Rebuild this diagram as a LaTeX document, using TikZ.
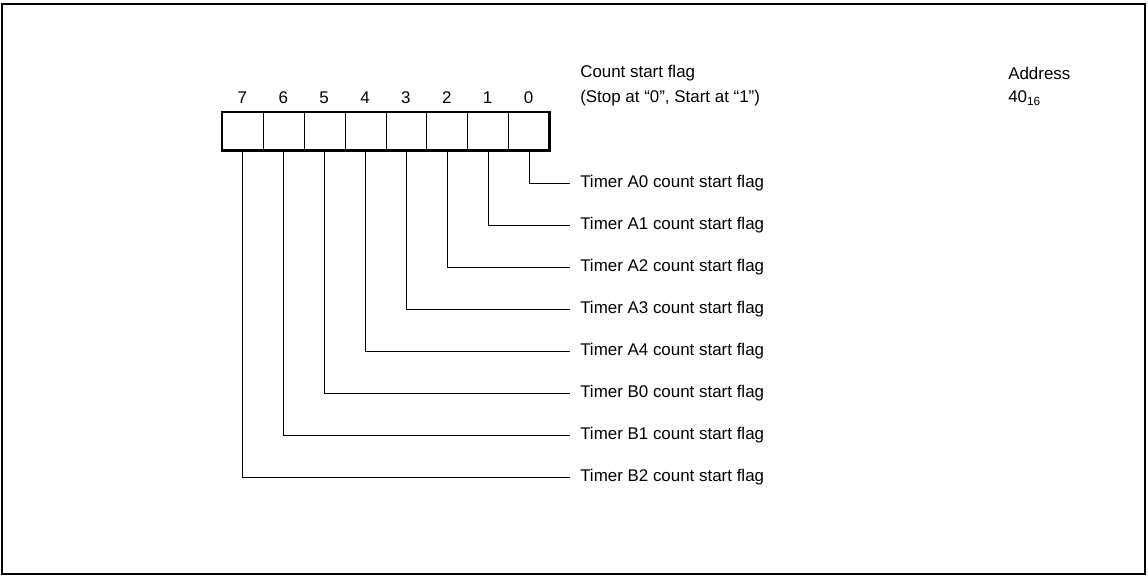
\documentclass[tikz,border=0pt]{standalone}
\usepackage{fontspec}
\setmainfont{Liberation Sans}
\begin{document}
\begin{tikzpicture}[x=0.75pt,y=-0.75pt,
  every node/.style={font=\fontsize{12.7}{15}\selectfont},
  cell/.style={draw,line width=0.6pt,minimum width=30.66pt,minimum height=28.5pt,inner sep=0pt,anchor=north west},
  bitnum/.style={inner sep=0pt},
  flaglabel/.style={anchor=west,inner xsep=7.5pt,inner ysep=0pt},
  conn/.style={line width=0.6pt},
  plain/.style={anchor=west,inner sep=0pt}]
\useasboundingbox (0,0) rectangle (1148,577);
\draw[line width=1.5pt] (2,4) rectangle (1145,574);
% cells
\foreach \i in {0,...,7}{
  \node[cell] (c\i) at ({222+(7-\i)*40.875},112) {};
  \node[bitnum] (n\i) at ({222+(7-\i)*40.875+20.44},98) {\i};
}
\draw[line width=2.2pt] (c7.north west) rectangle (c0.south east);
% header texts
\node[plain] (h1) at (580,73) {Count start flag};
\node[plain] (h2) at (580,98) {(Stop at “0”, Start at “1”)};
\node[plain] (a1) at (1008,73) {Address};
\node[plain] (a2) at (1008,98) {40\textsubscript{16}};
% labels
\node[flaglabel] (l0) at (570,183) {Timer A0 count start flag};
\node[flaglabel] (l1) at (570,225) {Timer A1 count start flag};
\node[flaglabel] (l2) at (570,267) {Timer A2 count start flag};
\node[flaglabel] (l3) at (570,309) {Timer A3 count start flag};
\node[flaglabel] (l4) at (570,351) {Timer A4 count start flag};
\node[flaglabel] (l5) at (570,393) {Timer B0 count start flag};
\node[flaglabel] (l6) at (570,435) {Timer B1 count start flag};
\node[flaglabel] (l7) at (570,477) {Timer B2 count start flag};
\foreach \i in {0,...,7}{
  \draw[conn] (c\i.south) |- (l\i.west);
}
\end{tikzpicture}
\end{document}
